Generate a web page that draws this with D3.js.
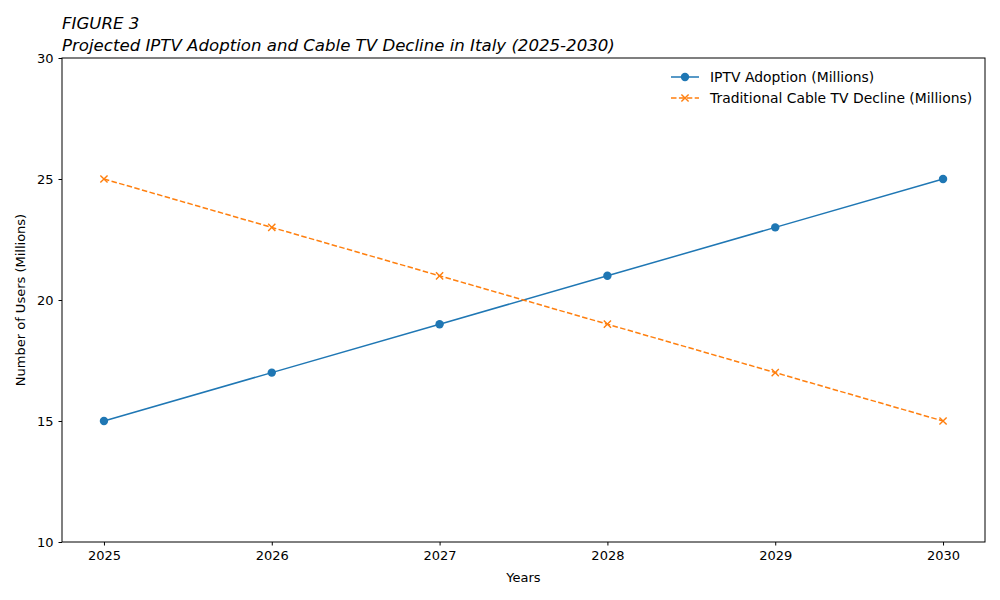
<!DOCTYPE html>
<html><head><meta charset="utf-8">
<script src="https://d3js.org/d3.v7.min.js"></script>
<style>body{margin:0;background:#fff;} text{font-family:"DejaVu Sans",sans-serif;}</style>
</head><body><svg id="c" width="1000" height="600"></svg>
<script>
const years = [2025, 2026, 2027, 2028, 2029, 2030];
const iptv = [15, 17, 19, 21, 23, 25];
const cable = [25, 23, 21, 19, 17, 15];
const yTicks = [10, 15, 20, 25, 30];
const titleLines = ["FIGURE 3", "Projected IPTV Adoption and Cable TV Decline in Italy (2025-2030)"];
const seriesNames = ["IPTV Adoption (Millions)", "Traditional Cable TV Decline (Millions)"];

const svg = d3.select("#c");
const L = 62, R = 985, T = 58, B = 542;
const FS = 13.9;
const x = d3.scaleLinear().domain([2024.75, 2030.25]).range([L, R]);
const y = d3.scaleLinear().domain([10, 30]).range([B, T]);
const blue = "#1f77b4", orange = "#ff7f0e";

const xa = svg.append("g").attr("transform", `translate(0,${B})`)
  .call(d3.axisBottom(x).tickValues(years).tickFormat(d3.format("d")).tickSize(3.5).tickPadding(5));
const ya = svg.append("g").attr("transform", `translate(${L},0)`)
  .call(d3.axisLeft(y).tickValues(yTicks).tickSize(3.5).tickPadding(5));
[xa, ya].forEach(a => {
  a.selectAll("text").attr("font-size", 13).attr("fill", "#000").attr("font-family", "DejaVu Sans");
  a.selectAll("line").attr("stroke", "#000");
  a.select(".domain").remove();
});
svg.append("rect").attr("x", L).attr("y", T).attr("width", R - L).attr("height", B - T)
  .attr("fill", "none").attr("stroke", "#000").attr("stroke-width", 1);

svg.append("text").attr("x", (L + R) / 2).attr("y", 582).attr("text-anchor", "middle")
  .attr("font-size", 13).text("Years");
svg.append("text").attr("transform", `translate(25,${(T + B) / 2}) rotate(-90)`).attr("text-anchor", "middle")
  .attr("font-size", 13).text("Number of Users (Millions)");
titleLines.forEach((t, i) => svg.append("text").attr("x", L).attr("y", 29 + i * 22)
  .attr("font-size", 16.6).attr("font-style", "italic").text(t));

const line = d3.line().x((d, i) => x(years[i])).y(d => y(d));
svg.append("path").datum(iptv).attr("d", line).attr("fill", "none").attr("stroke", blue).attr("stroke-width", 1.5);
svg.append("path").datum(cable).attr("d", line).attr("fill", "none").attr("stroke", orange).attr("stroke-width", 1.5)
  .attr("stroke-dasharray", "5.5,2.4");
svg.selectAll(".dot").data(iptv).enter().append("circle")
  .attr("cx", (d, i) => x(years[i])).attr("cy", d => y(d)).attr("r", 4.2).attr("fill", blue);
const xs = 3.6;
function cross(g, cx, cy) {
  g.append("path").attr("d", `M${cx - xs},${cy - xs}L${cx + xs},${cy + xs}M${cx - xs},${cy + xs}L${cx + xs},${cy - xs}`)
    .attr("stroke", orange).attr("stroke-width", 1.4).attr("fill", "none");
}
cable.forEach((d, i) => cross(svg, x(years[i]), y(d)));

const lg = svg.append("g");
const ly = [77, 98];
lg.append("line").attr("x1", 671).attr("x2", 699).attr("y1", ly[0]).attr("y2", ly[0]).attr("stroke", blue).attr("stroke-width", 1.5);
lg.append("circle").attr("cx", 685).attr("cy", ly[0]).attr("r", 4.2).attr("fill", blue);
lg.append("line").attr("x1", 671).attr("x2", 699).attr("y1", ly[1]).attr("y2", ly[1]).attr("stroke", orange).attr("stroke-width", 1.5).attr("stroke-dasharray", "5.5,2.4");
cross(lg, 685, ly[1]);
seriesNames.forEach((n, i) => lg.append("text").attr("x", 710).attr("y", ly[i] + 5).attr("font-size", FS).text(n));
</script></body></html>
